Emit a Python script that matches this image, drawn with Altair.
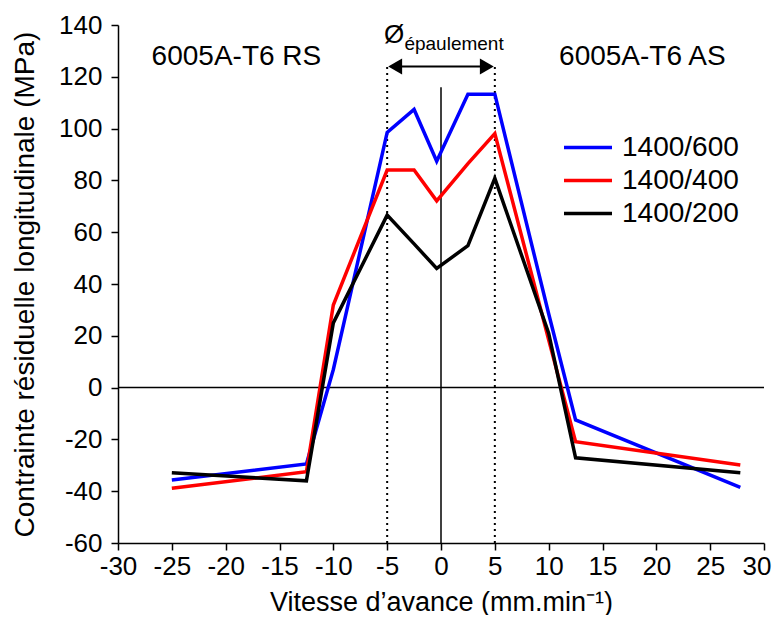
import altair as alt
import pandas as pd

# Data
positions = [-25, -12.5, -10, -5, -2.5, -0.4, 2.5, 5, 10, 12.5, 27.8]
s600 = [-35.7, -29.5, 7, 98.5, 107.4, 87.4, 113.3, 113.3, 28.5, -12.5, -38.5]
s400 = [-38.9, -32.5, 31.9, 84, 84, 72.1, 86.5, 98.1, 18.5, -20.9, -29.9]
s200 = [-32.9, -36, 25, 66.6, 55.5, 46, 54.8, 80.8, 21, -27.1, -32.9]
series = ["1400/600", "1400/400", "1400/200"]
colors = ["#0000FF", "#FF0000", "#000000"]
x_ticks = list(range(-30, 31, 5))
y_ticks = list(range(-60, 141, 20))

FONT = "Liberation Sans"

rows = []
for name, vals in zip(series, [s600, s400, s200]):
    for i, (x, y) in enumerate(zip(positions, vals)):
        rows.append({"x": x, "y": y, "serie": name, "order": i})
df = pd.DataFrame(rows)

xs = alt.Scale(domain=[-30, 30], nice=False, zero=False)
ys = alt.Scale(domain=[-60, 140], nice=False, zero=False)

lines = alt.Chart(df).mark_line(strokeWidth=3.5, strokeJoin="miter").encode(
    x=alt.X("x:Q", scale=xs,
            axis=alt.Axis(values=x_ticks, title="Vitesse d’avance (mm.min⁻¹)",
                          labelExpr="'' + datum.value", labelFlush=False, labelOverlap=False,
                          labelAlign={"condition": {"test": "datum.value == 30", "value": "right"},
                                      "value": "center"},
                          labelOffset={"condition": {"test": "datum.value == 30", "value": 7},
                                       "value": 0},
                          titleX=323, titleY=67, titleBaseline="alphabetic",
                          titleFontSize=27)),
    y=alt.Y("y:Q", scale=ys,
            axis=alt.Axis(values=y_ticks, title="Contrainte résiduelle longitudinale (MPa)",
                          labelExpr="'' + datum.value", labelOverlap=False, labelFlush=False,
                          titleX=-93, titleY=259, titleBaseline="middle", titleAngle=-90)),
    color=alt.Color("serie:N", scale=alt.Scale(domain=series, range=colors),
                    legend=alt.Legend(title=None, orient="none", legendX=444, legendY=106,
                                      symbolType="stroke", symbolSize=2304,
                                      symbolStrokeWidth=3.5, labelFontSize=28,
                                      labelFont=FONT, labelOffset=8, clipHeight=33,
                                      rowPadding=0, padding=0, labelColor="black")),
    order="order:Q",
)

hz = alt.Chart(pd.DataFrame({"x": [-30], "x2": [30], "y": [0]})).mark_rule(
    color="black", strokeWidth=1.5).encode(x=alt.X("x:Q", scale=xs), x2="x2:Q", y=alt.Y("y:Q", scale=ys))
vz = alt.Chart(pd.DataFrame({"x": [0], "y": [-60], "y2": [116]})).mark_rule(
    color="black", strokeWidth=1.5).encode(x=alt.X("x:Q", scale=xs), y=alt.Y("y:Q", scale=ys), y2="y2:Q")
dots = alt.Chart(pd.DataFrame({"x": [-5, 5], "y": [-60, -60], "y2": [124, 124]})).mark_rule(
    color="black", strokeWidth=2, strokeDash=[2, 4]).encode(
    x=alt.X("x:Q", scale=xs), y=alt.Y("y:Q", scale=ys), y2="y2:Q")
arrow = alt.Chart(pd.DataFrame({"x": [-4], "x2": [4], "y": [124]})).mark_rule(
    color="black", strokeWidth=2).encode(x=alt.X("x:Q", scale=xs), x2="x2:Q", y=alt.Y("y:Q", scale=ys))
headL = alt.Chart(pd.DataFrame({"x": [-5], "y": [124]})).mark_point(
    shape="triangle-left", size=256, filled=True, color="black", opacity=1, xOffset=8).encode(
    x=alt.X("x:Q", scale=xs), y=alt.Y("y:Q", scale=ys))
headR = alt.Chart(pd.DataFrame({"x": [5], "y": [124]})).mark_point(
    shape="triangle-right", size=256, filled=True, color="black", opacity=1, xOffset=-8).encode(
    x=alt.X("x:Q", scale=xs), y=alt.Y("y:Q", scale=ys))

side = alt.Chart(pd.DataFrame({"x": [-19, 18.7], "y": [127.6, 127.6],
                               "t": ["6005A-T6 RS", "6005A-T6 AS"]})).mark_text(
    fontSize=28, font=FONT, color="black", align="center", baseline="middle").encode(
    x=alt.X("x:Q", scale=xs), y=alt.Y("y:Q", scale=ys), text="t:N")
phi = alt.Chart(pd.DataFrame({"x": [-4.35], "y": [136], "t": ["Ø"]})).mark_text(
    fontSize=26, font=FONT, color="black", align="center", baseline="middle").encode(
    x=alt.X("x:Q", scale=xs), y=alt.Y("y:Q", scale=ys), text="t:N")
epa = alt.Chart(pd.DataFrame({"x": [-3.4], "y": [132.6], "t": ["épaulement"]})).mark_text(
    fontSize=19, font=FONT, color="black", align="left", baseline="middle").encode(
    x=alt.X("x:Q", scale=xs), y=alt.Y("y:Q", scale=ys), text="t:N")

chart = alt.layer(hz, vz, dots, arrow, headL, headR, lines, side, phi, epa).properties(
    width=646, height=518,
    autosize=alt.AutoSizeParams(type="none"),
    padding={"left": 110, "top": 17, "right": 8, "bottom": 72},
).configure_view(stroke=None).configure_axis(
    grid=False, domainColor="black", domainWidth=1.5, tickColor="black", tickWidth=1.5,
    tickSize=7, labelColor="black", labelFontSize=26, labelFont=FONT,
    titleFont=FONT, titleFontSize=28, titleFontWeight="normal", titleColor="black",
).configure_axisY(labelPadding=9).configure_axisX(labelPadding=3)

chart.save("out.html", embed_options={"renderer": "svg", "actions": False})
